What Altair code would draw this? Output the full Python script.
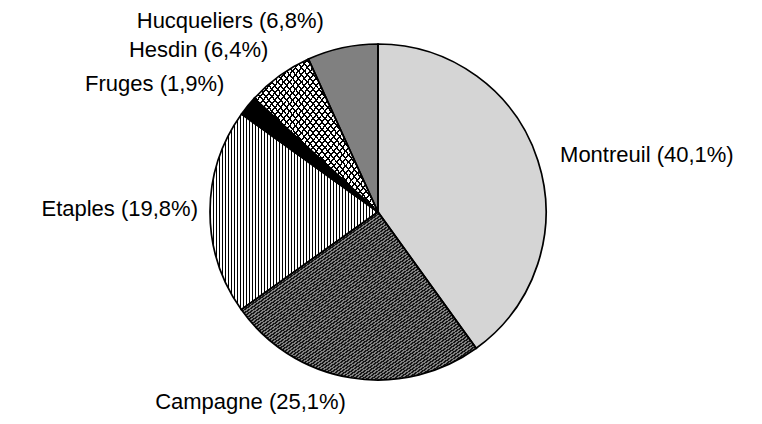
import altair as alt
import pandas as pd

cats = ["Montreuil", "Campagne", "Etaples", "Fruges", "Hesdin", "Hucqueliers"]
pcts = [40.1, 25.1, 19.8, 1.9, 6.4, 6.8]
labels = [f"{c} ({str(p).replace('.', ',')}%)" for c, p in zip(cats, pcts)]

df = pd.DataFrame({"idx": list(range(len(cats))), "cat": cats, "pct": pcts, "label": labels})


def stripes(n, x1, y1, x2, y2, line, gap, frac):
    stops = []
    for i in range(n):
        a = i / n
        b = (i + frac) / n
        c = (i + 1) / n
        stops += [
            {"offset": a, "color": line},
            {"offset": b, "color": line},
            {"offset": b, "color": gap},
            {"offset": c, "color": gap},
        ]
    return {"gradient": "linear", "x1": x1, "y1": y1, "x2": x2, "y2": y2, "stops": stops}


g_campagne = stripes(105, 0, 0, 1, 1, "#161616", "#808080", 0.5)
g_etaples = stripes(56, 0, 0, 1, 0, "#000000", "#ffffff", 0.34)
g_hesdin1 = stripes(42, 0, 0, 1, 1, "#000000", "#ffffff", 0.3)
g_hesdin2 = stripes(42, 1, 0, 0, 1, "#000000", "rgba(0,0,0,0)", 0.3)

R = 168
theta_scale = alt.Scale(domain=[0, 1], range=[0, 6.283185307179586])

base = alt.Chart(df).transform_window(
    cum="sum(pct)", sort=[{"field": "idx"}], frame=[None, 0]
).transform_joinaggregate(
    total="sum(pct)"
).transform_calculate(
    start="(datum.cum - datum.pct) / datum.total",
    end="datum.cum / datum.total",
    mid="(datum.cum - datum.pct / 2) / datum.total",
)

arc_enc = dict(
    theta=alt.Theta("start:Q", scale=theta_scale),
    theta2=alt.Theta2("end:Q"),
)

fill_layer = base.mark_arc(outerRadius=R, strokeWidth=0).encode(
    fill={
        "condition": [
            {"test": "datum.cat == 'Montreuil'", "value": "#d5d5d5"},
            {"test": "datum.cat == 'Campagne'", "value": g_campagne},
            {"test": "datum.cat == 'Etaples'", "value": g_etaples},
            {"test": "datum.cat == 'Fruges'", "value": "#000000"},
            {"test": "datum.cat == 'Hesdin'", "value": g_hesdin1},
        ],
        "value": "#808080",
    },
    **arc_enc,
)

cross_layer = base.mark_arc(outerRadius=R, strokeWidth=0).encode(
    fill={
        "condition": [{"test": "datum.cat == 'Hesdin'", "value": g_hesdin2}],
        "value": "rgba(0,0,0,0)",
    },
    **arc_enc,
)

outline = base.mark_arc(outerRadius=R, filled=False, stroke="black", strokeWidth=1.7).encode(**arc_enc)

font = "Liberation Sans"
fs = 22
LR = 185


def text_layer(name, **kw):
    return base.transform_filter(
        alt.FieldEqualPredicate(field="cat", equal=name)
    ).mark_text(radius=LR, font=font, fontSize=fs, color="black", **kw).encode(
        theta=alt.Theta("mid:Q", scale=theta_scale),
        text="label:N",
    )


t_mon = text_layer("Montreuil", align="left", baseline="middle", dx=6, dy=0)
t_eta = text_layer("Etaples", align="right", baseline="middle", dx=5, dy=-3)
t_fru = text_layer("Fruges", align="right", baseline="bottom", dx=-10, dy=1)
t_hes = text_layer("Hesdin", align="right", baseline="bottom", dx=-1, dy=0)
t_huc = text_layer("Hucqueliers", align="right", baseline="bottom", dx=-15, dy=2)
t_cam = text_layer("Campagne", align="right", baseline="top", dx=-2, dy=-3)

chart = alt.layer(fill_layer, cross_layer, outline, t_mon, t_eta, t_fru, t_hes, t_huc, t_cam).properties(
    width=740,
    height=400,
    padding={"left": 0, "top": 4, "right": 0, "bottom": 4},
    autosize=alt.AutoSizeParams(type="none"),
).configure_view(stroke=None)

chart.save("out.html", embed_options={"renderer": "svg", "actions": False})
